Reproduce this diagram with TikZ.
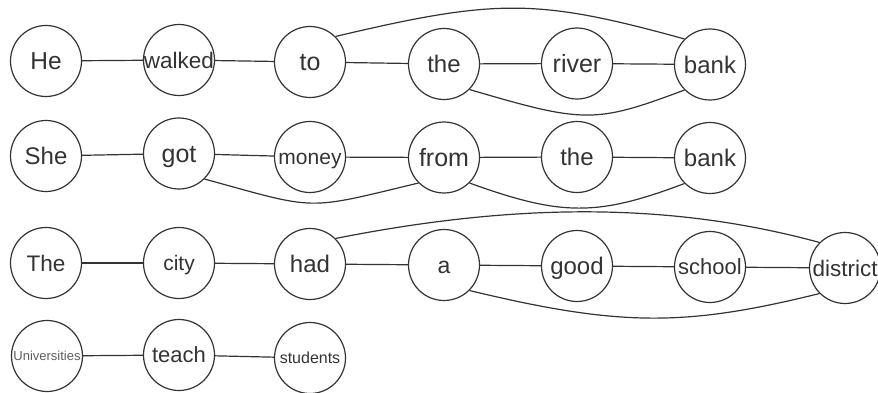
\documentclass[tikz,border=0pt]{standalone}
\usepackage{fontspec}
\setmainfont{Liberation Sans}
\definecolor{ln}{HTML}{333333}
\newcommand{\wtxt}[1]{\makebox[0pt]{\raisebox{-0.358em}[0pt][0pt]{#1}}}
\begin{document}
\begin{tikzpicture}[x=1pt,y=-1pt,
  wn/.style={circle,draw=ln,line width=1.2pt,minimum size=71pt,inner sep=0pt,
    text=ln,font=\fontsize{24}{28}\selectfont},
  fs/.style={font=\fontsize{#1}{#1}\selectfont},
  ed/.style={draw=ln,line width=1.2pt}]
\useasboundingbox (0,0) rectangle (878,393);
% row 1
\node[wn,fs=24.5] (he) at (46,61) {\wtxt{He}};
\node[wn,fs=22.5] (walked) at (179,60) {\wtxt{walked}};
\node[wn,fs=25] (toA) at (310,62) {\wtxt{to}};
\node[wn] (theA) at (444,64) {\wtxt{the}};
\node[wn,fs=25] (river) at (577,63.5) {\wtxt{river}};
\node[wn] (bankA) at (710,64.5) {\wtxt{bank}};
% row 2
\node[wn] (she) at (46,156) {\wtxt{She}};
\node[wn,fs=25] (got) at (179,153.5) {\wtxt{got}};
\node[wn,fs=21] (money) at (310,157) {\wtxt{money}};
\node[wn,fs=25] (from) at (444,157.5) {\wtxt{from}};
\node[wn] (theB) at (577,157) {\wtxt{the}};
\node[wn] (bankB) at (710,158) {\wtxt{bank}};
% row 3
\node[wn,fs=22.5] (theC) at (46,263) {\wtxt{The}};
\node[wn,fs=21] (city) at (179,263) {\wtxt{city}};
\node[wn] (had) at (310,264) {\wtxt{had}};
\node[wn,fs=23] (aC) at (444,265) {\wtxt{a}};
\node[wn] (good) at (577,266) {\wtxt{good}};
\node[wn,fs=22] (school) at (710,267) {\wtxt{school}};
\node[wn,fs=22.5] (district) at (845,268) {\wtxt{district}};
% row 4
\node[wn,fs=13,text=ln!80] (univ) at (47,356) {\wtxt{Universities}};
\node[wn,fs=22] (teach) at (179,355) {\wtxt{teach}};
\node[wn,fs=16] (students) at (310,358) {\wtxt{students}};
% straight edges
\draw[ed] (he) -- (walked);
\draw[ed] (walked) -- (toA);
\draw[ed] (toA) -- (theA);
\draw[ed] (theA) -- (river);
\draw[ed] (river) -- (bankA);
\draw[ed] (she) -- (got);
\draw[ed] (got) -- (money);
\draw[ed] (money) -- (from);
\draw[ed] (from) -- (theB);
\draw[ed] (theB) -- (bankB);
\draw[ed] (theC) -- (city);
\draw[ed] (city) -- (had);
\draw[ed] (had) -- (aC);
\draw[ed] (aC) -- (good);
\draw[ed] (good) -- (school);
\draw[ed] (school) -- (district);
\draw[ed] (univ) -- (teach);
\draw[ed] (teach) -- (students);
% curved edges
\draw[ed] (toA.45) .. controls (497,-1.7) and (537,-1.7) .. (bankA.135);
\draw[ed] (theA.-45) .. controls (585,123.5) and (595,123.5) .. (bankA.-135);
\draw[ed] (got.-45) .. controls (319,210.5) and (304,210.5) .. (from.-135);
\draw[ed] (from.-45) .. controls (562,216.4) and (597,216.4) .. (bankB.-135);
\draw[ed] (had.45) .. controls (518,202.3) and (672,202.3) .. (district.135);
\draw[ed] (aC.-45) .. controls (620,326.8) and (685,326.8) .. (district.-135);
\end{tikzpicture}
\end{document}
